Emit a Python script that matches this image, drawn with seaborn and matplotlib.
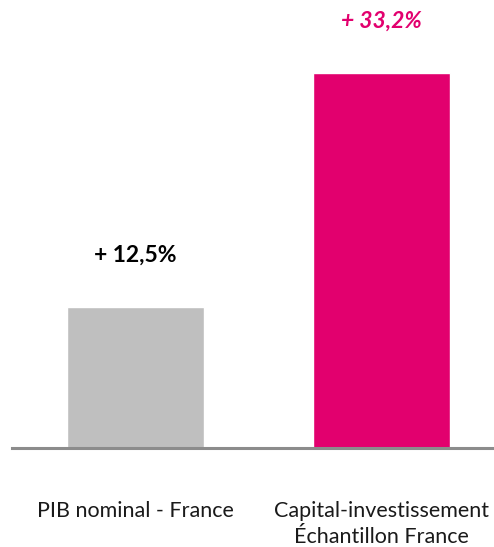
import matplotlib
matplotlib.use("Agg")
import pandas as pd
import seaborn as sns
import matplotlib.pyplot as plt

categories = ["PIB nominal - France", "Capital-investissement\nÉchantillon France"]
values = [12.5, 33.2]
labels = ["+ 12,5%", "+ 33,2%"]
colors = ["#BFBFBF", "#E2006E"]

sns.set_style("white")
plt.rcParams["font.family"] = ["Lato", "DejaVu Sans"]

df = pd.DataFrame({"cat": categories, "val": values})

fig = plt.figure(figsize=(4.94, 5.47), dpi=100)
ax = fig.add_axes([12 / 494, (547 - 448) / 547, 482 / 494, 448 / 547])

sns.barplot(data=df, x="cat", y="val", hue="cat", palette=colors,
            width=0.558, saturation=1, legend=False, ax=ax)

ax.set_xlim(-0.503, 1.46)
ax.set_ylim(0, 39.66)

# value labels above bars
styles = [dict(color="black", style="normal"), dict(color="#E2006E", style="italic")]
for i, (v, lab) in enumerate(zip(values, labels)):
    ax.annotate(lab, (i, v), xytext=(0, 37), textcoords="offset points",
                ha="center", va="center", fontsize=16.5, fontweight="bold",
                **styles[i])

for s in ["top", "right", "left"]:
    ax.spines[s].set_visible(False)
ax.spines["bottom"].set_color("#8C8C8C")
ax.spines["bottom"].set_linewidth(2.2)
ax.set_yticks([])
ax.set_xlabel("")
ax.set_ylabel("")
ax.tick_params(axis="x", length=0, pad=38, labelsize=15.5, colors="#1a1a1a")
for t in ax.get_xticklabels():
    t.set_linespacing(1.4)
    t.set_verticalalignment("top")

fig.savefig("out.png", dpi=100)
